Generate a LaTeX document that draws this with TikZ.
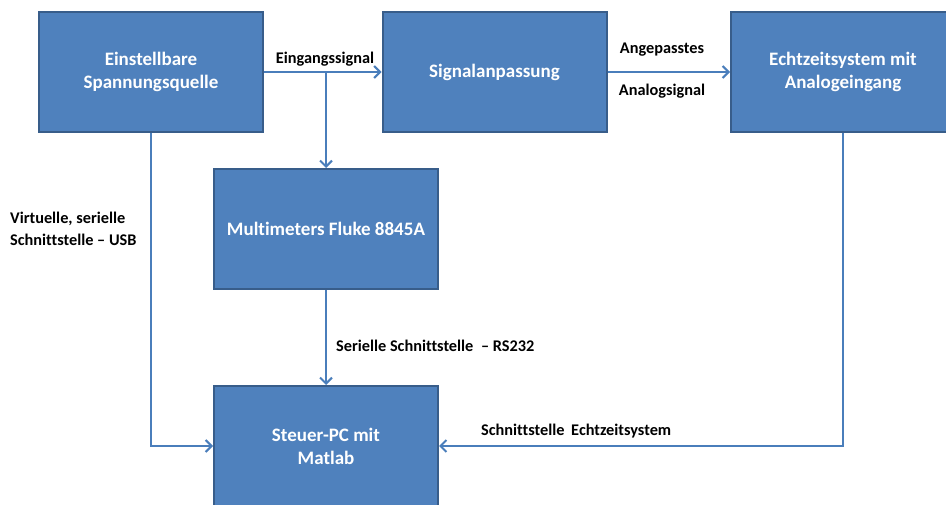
\documentclass[tikz,border=0pt]{standalone}
\usepackage{fontspec}
\setmainfont[Ligatures=NoCommon]{Carlito}
\usetikzlibrary{arrows.meta}
\definecolor{boxfill}{HTML}{4F81BD}
\definecolor{boxline}{HTML}{385D8A}
\definecolor{arrline}{HTML}{4A7EBB}
\tikzset{
  blk/.style={draw=boxline, line width=2pt, fill=boxfill, minimum width=224pt, minimum height=120pt, inner sep=0pt,
    text=white, font=\fontsize{19}{23}\selectfont\bfseries, align=center},
  lbl/.style={inner sep=0pt, font=\fontsize{16.3}{22}\selectfont\bfseries, text=black},
  arr/.style={draw=arrline, line width=2pt, -{Straight Barb[length=6pt,width=12pt,line width=2pt]}},
}
\begin{document}
\begin{tikzpicture}[x=1pt,y=-1pt]
\useasboundingbox (0,0) rectangle (946,505);
\clip (0,0) rectangle (946,505);
\node[blk] (A) at (151,72) {Einstellbare\\Spannungsquelle};
\node[blk] (B) at (494.5,72) {Signalanpassung};
\node[blk] (C) at (843,72) {Echtzeitsystem mit\\Analogeingang};
\node[blk] (D) at (326,229) {Multimeters Fluke 8845A};
\node[blk] (E) at (326,446) {Steuer-PC mit\\Matlab};
\draw[arr] (A.east) -- (B.west);
\draw[arr] (D.north |- A.east) -- (D.north);
\draw[arr] (B.east) -- (C.west);
\draw[arr] (D.south) -- (E.north);
\draw[arr] (A.south) |- (E.west);
\draw[arr] (C.south) |- (E.east);
\node[lbl] (l1) at (325,59) {Eingangssignal};
\node[lbl] (l2) at (662,50) {Angepasstes};
\node[lbl] (l3) at (662,91) {Analogsignal};
\node[lbl, anchor=west, align=left] (l4) at (10,229) {Virtuelle, serielle\\Schnittstelle -- USB};
\node[lbl, anchor=west] (l5) at (336,346) {Serielle Schnittstelle\hspace{4pt} -- RS232};
\node[lbl, anchor=west] (l6) at (481,431) {Schnittstelle\hspace{3pt} Echtzeitsystem};
\end{tikzpicture}
\end{document}
